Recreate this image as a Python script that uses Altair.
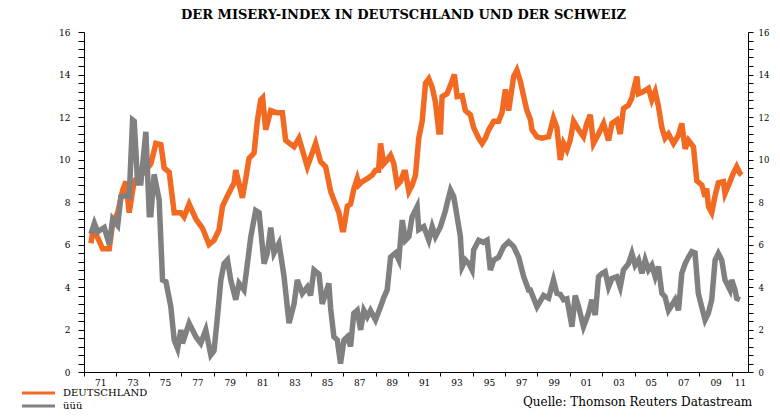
import altair as alt
import pandas as pd

TITLE = "DER MISERY-INDEX IN DEUTSCHLAND UND DER SCHWEIZ"
SOURCE = "Quelle: Thomson Reuters Datastream"
SERIES = ["DEUTSCHLAND", "üüü"]
COLORS = ["#F26A22", "#808080"]

DE = [(1970.43,6.06),(1970.54,6.6),(1970.74,6.5),(1971.15,5.8),(1971.56,5.8),(1971.77,7.0),(1972.08,7.5),
      (1972.39,8.56),(1972.59,8.96),(1972.79,7.5),(1973.10,9.0),(1973.41,9.2),(1973.72,9.4),(1974.13,9.8),
      (1974.44,10.76),(1974.75,10.7),(1974.95,9.6),(1975.26,9.4),(1975.57,7.5),(1975.98,7.5),(1976.18,7.3),
      (1976.49,7.9),(1976.91,7.2),(1977.32,6.76),(1977.72,6.0),(1978.03,6.2),(1978.34,6.7),(1978.55,7.8),
      (1978.86,8.3),(1979.27,8.9),(1979.37,9.5),(1979.78,8.2),(1979.99,9.1),(1980.19,10.06),(1980.50,10.3),
      (1980.71,11.86),(1980.91,12.8),(1981.03,12.9),(1981.22,11.4),(1981.53,12.3),(1981.94,12.2),(1982.25,12.2),
      (1982.45,10.9),(1982.97,10.6),(1983.27,11.0),(1983.79,9.66),(1984.30,10.76),(1984.61,9.9),(1984.92,9.66),
      (1985.23,8.5),(1985.43,8.1),(1985.74,7.5),(1985.95,6.7),(1986.03,6.7),(1986.26,7.8),(1986.46,7.9),
      (1986.66,8.6),(1986.87,9.1),(1986.97,8.8),(1987.18,8.96),(1987.49,9.1),(1987.80,9.27),(1988.00,9.5),
      (1988.19,9.5),(1988.31,10.76),(1988.51,9.8),(1988.72,9.98),(1988.93,10.2),(1989.13,9.8),(1989.34,8.8),
      (1989.54,8.96),(1989.75,9.4),(1989.85,9.4),(1990.06,8.5),(1990.27,8.8),(1990.47,9.27),(1990.67,11.0),
      (1990.88,11.8),(1991.09,13.6),(1991.29,13.8),(1991.50,13.4),(1991.70,12.7),(1991.91,11.3),(1992.01,11.3),
      (1992.11,12.96),(1992.42,13.1),(1992.63,13.5),(1992.87,14.0),(1993.04,12.96),(1993.35,13.0),(1993.55,12.3),
      (1993.86,12.1),(1994.06,11.5),(1994.37,11.0),(1994.58,10.76),(1994.78,11.0),(1994.99,11.4),(1995.30,11.8),
      (1995.60,11.8),(1995.81,12.2),(1996.02,13.3),(1996.22,12.3),(1996.53,13.9),(1996.73,14.2),(1996.94,13.7),
      (1997.15,12.96),(1997.35,12.3),(1997.56,11.9),(1997.66,11.4),(1997.97,11.07),(1998.28,11.0),(1998.69,11.07),
      (1998.99,11.94),(1999.20,11.5),(1999.41,9.98),(1999.61,10.76),(1999.82,10.45),(2000.02,10.9),(2000.23,11.8),
      (2000.54,11.4),(2000.84,11.07),(2001.05,11.7),(2001.26,12.1),(2001.46,10.76),(2001.77,11.2),(2002.08,11.7),
      (2002.39,10.9),(2002.60,11.7),(2002.90,11.86),(2003.11,11.2),(2003.31,12.4),(2003.62,12.56),(2003.83,12.9),
      (2003.93,13.27),(2004.14,13.9),(2004.24,13.1),(2004.54,13.2),(2004.85,13.35),(2005.06,12.8),(2005.27,13.2),
      (2005.47,12.5),(2005.68,11.5),(2005.88,11.0),(2006.09,11.2),(2006.40,10.76),(2006.71,11.15),(2006.91,11.7),
      (2007.12,10.5),(2007.32,10.9),(2007.63,10.6),(2007.84,9.0),(2008.15,8.8),(2008.35,8.25),(2008.45,8.64),
      (2008.56,7.78),(2008.76,7.5),(2008.97,8.3),(2009.17,8.9),(2009.48,8.96),(2009.58,8.4),(2009.89,8.96),
      (2010.09,9.35),(2010.30,9.66),(2010.50,9.35),(2010.61,9.27)]

CH = [(1970.43,6.5),(1970.64,7.0),(1970.84,6.6),(1971.25,6.8),(1971.56,6.0),(1971.77,7.2),(1972.08,6.9),
      (1972.28,8.25),(1972.59,8.3),(1972.79,8.25),(1973.00,11.86),(1973.10,11.8),(1973.31,8.9),(1973.51,8.9),
      (1973.82,11.3),(1974.03,7.4),(1974.13,7.4),(1974.33,9.3),(1974.64,8.1),(1974.85,4.33),(1975.06,4.25),
      (1975.36,3.07),(1975.57,1.5),(1975.78,1.1),(1975.98,1.98),(1976.08,1.35),(1976.49,2.3),(1976.91,1.66),
      (1977.21,1.35),(1977.52,1.98),(1977.83,0.8),(1978.03,1.0),(1978.24,2.6),(1978.45,4.33),(1978.65,5.1),
      (1978.86,5.27),(1979.06,4.33),(1979.37,3.4),(1979.57,4.17),(1979.88,3.86),(1980.09,5.1),(1980.30,6.37),
      (1980.60,7.6),(1980.81,7.5),(1981.12,5.1),(1981.32,5.6),(1981.53,6.8),(1981.73,5.6),(1982.04,6.06),
      (1982.35,4.5),(1982.66,2.3),(1982.97,3.2),(1983.17,4.33),(1983.48,3.7),(1983.79,4.0),(1983.99,3.6),
      (1984.20,4.8),(1984.51,4.6),(1984.71,3.2),(1985.12,4.17),(1985.23,3.0),(1985.43,1.66),(1985.64,1.5),
      (1985.84,0.4),(1986.05,1.5),(1986.26,1.66),(1986.46,1.2),(1986.66,2.76),(1986.87,2.9),(1987.08,1.98),
      (1987.28,2.9),(1987.49,2.6),(1987.69,2.9),(1988.00,2.45),(1988.31,3.07),(1988.51,3.5),(1988.72,3.86),
      (1988.93,5.4),(1989.24,5.6),(1989.44,5.27),(1989.65,7.15),(1989.85,6.2),(1990.06,6.37),(1990.26,7.3),
      (1990.57,7.78),(1990.67,6.7),(1990.98,6.84),(1991.29,6.2),(1991.50,6.84),(1991.70,6.37),(1992.01,6.84),
      (1992.32,7.6),(1992.42,7.94),(1992.63,8.56),(1992.83,8.25),(1993.04,7.3),(1993.24,6.37),(1993.35,4.96),
      (1993.55,5.27),(1993.76,5.1),(1993.96,4.8),(1994.06,5.74),(1994.37,6.2),(1994.66,6.1),(1994.89,6.2),
      (1995.09,4.8),(1995.30,5.27),(1995.60,5.4),(1995.91,5.9),(1996.22,6.13),(1996.53,5.9),(1996.84,5.4),
      (1997.15,4.48),(1997.45,3.86),(1997.56,3.86),(1997.97,3.07),(1998.38,3.6),(1998.69,3.47),(1998.99,4.33),
      (1999.20,3.7),(1999.41,3.65),(1999.61,3.4),(1999.82,3.45),(2000.13,2.13),(2000.33,3.6),(2000.54,3.07),
      (2000.84,2.13),(2001.15,2.76),(2001.36,3.4),(2001.57,2.68),(2001.77,4.48),(2001.98,4.64),(2002.18,4.72),
      (2002.39,4.0),(2002.60,4.4),(2002.90,4.48),(2003.11,4.0),(2003.31,4.8),(2003.62,5.1),(2003.83,5.58),
      (2004.03,5.03),(2004.24,5.27),(2004.45,4.64),(2004.65,5.27),(2004.85,4.8),(2005.06,5.03),(2005.27,4.48),
      (2005.47,4.96),(2005.68,3.7),(2005.88,3.54),(2006.09,2.9),(2006.30,3.15),(2006.50,3.4),(2006.71,2.9),
      (2006.91,4.64),(2007.12,5.1),(2007.32,5.4),(2007.53,5.66),(2007.73,5.6),(2007.93,3.7),(2008.14,3.07),
      (2008.35,2.45),(2008.55,2.76),(2008.76,3.4),(2008.97,5.27),(2009.17,5.58),(2009.38,5.27),(2009.58,4.33),
      (2009.89,3.86),(2009.99,4.33),(2010.20,3.86),(2010.30,3.47),(2010.50,3.4)]

Y_TICKS = [round(i * 0.4, 1) for i in range(41)]
X_TICKS = list(range(1970, 2011, 2))
X_LABELS = list(range(1971, 2010, 2)) + [2010.5]

rows = [{"year": y, "value": v, "series": SERIES[0]} for y, v in DE] + \
       [{"year": y, "value": v, "series": SERIES[1]} for y, v in CH]
df = pd.DataFrame(rows)

FONT = "DejaVu Serif"

x_enc = alt.X(
    "year:Q",
    scale=alt.Scale(domain=[1970, 2011], nice=False, zero=False),
    axis=alt.Axis(
        values=sorted(X_TICKS + X_LABELS), title=None, grid=False,
        labelExpr="datum.value > 2010.2 ? '11' : (datum.value % 2 == 1 ? slice(toString(datum.value), 2) : '')",
        tickOpacity={"condition": {"test": "datum.value % 2 == 0", "value": 1}, "value": 0},
        tickSize=4, labelPadding=2, labelOverlap=False, labelFlush=False, labelBound=False,
        domainColor="black", tickColor="black", labelColor="black",
        labelFont=FONT, labelFontSize=9,
    ),
)

yscale = alt.Scale(domain=[0, 16], nice=False, zero=True)

def y_axis(orient, tick, pad, size):
    return alt.Axis(
        orient=orient, values=Y_TICKS, title=None, grid=False,
        labelExpr="datum.value % 2 == 0 ? format(datum.value, 'd') : ''",
        tickSize=tick, labelPadding=pad, labelOverlap=False, labelFlush=False,
        domainColor="black", tickColor="black", labelColor="black",
        labelFont=FONT, labelFontSize=size,
    )

lines = alt.Chart(df).mark_line(strokeWidth=5.5).encode(
    x=x_enc,
    y=alt.Y("value:Q", scale=yscale, axis=y_axis("left", 6, 8, 9)),
    color=alt.Color(
        "series:N",
        scale=alt.Scale(domain=SERIES, range=COLORS),
        legend=alt.Legend(
            title=None, orient="none", legendX=-51, legendY=355.5,
            symbolType="M-4.125,0H4.125", symbolSize=64, symbolStrokeWidth=3,
            labelOffset=19, labelFont=FONT, labelFontSize=10, labelColor="black",
            rowPadding=0, padding=0,
        ),
    ),
)

right = alt.Chart(df).mark_line(strokeOpacity=0).encode(
    x=x_enc,
    y=alt.Y("value:Q", scale=yscale, axis=y_axis("right", 5, 5, 8.5)),
    detail="series:N",
)

title = alt.Chart(pd.DataFrame({"t": [TITLE]})).mark_text(
    align="center", baseline="alphabetic", font=FONT, fontSize=13, fontWeight="bold", color="black"
).encode(x=alt.value(319.5), y=alt.value(-13), text="t:N")

source = alt.Chart(pd.DataFrame({"t": [SOURCE]})).mark_text(
    align="left", baseline="alphabetic", font=FONT, fontSize=12, color="black"
).encode(x=alt.value(439), y=alt.value(374), text="t:N")

chart = alt.layer(lines, right, title, source).resolve_scale(y="independent").properties(
    width=664, height=340,
    autosize=alt.AutoSizeParams(type="none"),
    padding={"left": 76, "top": 24, "right": 24, "bottom": 38},
).configure_view(stroke=None)

chart.save("out.html", embed_options={"renderer": "svg", "actions": False})
